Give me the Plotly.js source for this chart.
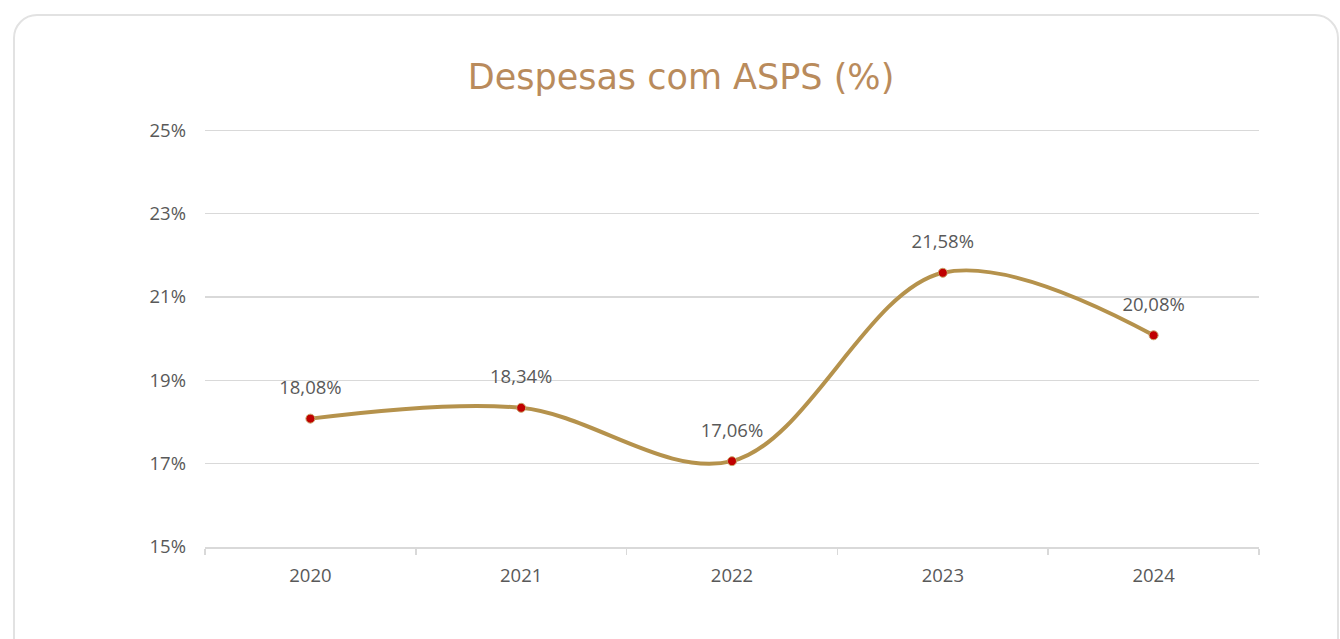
<!DOCTYPE html>
<html>
<head>
<meta charset="utf-8">
<script src="https://cdn.plot.ly/plotly-3.0.1.min.js"></script>
<style>
  html, body { margin: 0; padding: 0; background: #ffffff; width: 1340px; height: 639px; overflow: hidden; }
  #card { position: absolute; left: 13px; top: 14px; width: 1326px; height: 700px; border: 2px solid #e2e2e2; border-radius: 24px; box-sizing: border-box; }
  #chart { position: absolute; left: 0; top: 0; width: 1340px; height: 639px; }
</style>
</head>
<body>
<div id="card"></div>
<div id="chart"></div>
<script>
const years = ["2020", "2021", "2022", "2023", "2024"];
const values = [18.08, 18.34, 17.06, 21.58, 20.08];
const yTicks = [15, 17, 19, 21, 23, 25];
const chartTitle = "Despesas com ASPS (%)";

const fmt = v => v.toFixed(2).replace('.', ',') + '%';

const lineTrace = {
  type: 'scatter',
  mode: 'lines+markers',
  x: years,
  y: values,
  line: { color: '#b5924c', width: 4, shape: 'spline', smoothing: 1 },
  marker: { color: '#c00000', size: 9, line: { color: '#c9a46a', width: 1 } },
  hoverinfo: 'skip'
};

const labelTrace = {
  type: 'scatter',
  mode: 'markers+text',
  x: years,
  y: values,
  text: values.map(fmt),
  textposition: 'top center',
  textfont: { family: 'Open Sans, sans-serif', size: 18.5, color: '#595959' },
  marker: { color: 'rgba(0,0,0,0)', size: 30, line: { width: 0 } },
  cliponaxis: false,
  hoverinfo: 'skip'
};

const layout = {
  width: 1340, height: 639,
  paper_bgcolor: 'rgba(0,0,0,0)', plot_bgcolor: 'rgba(0,0,0,0)',
  margin: { l: 205, r: 81, t: 129, b: 92 },
  showlegend: false,
  title: {
    text: chartTitle, x: 681 / 1340, xanchor: 'center', xref: 'container',
    y: 1 - 77 / 639, yanchor: 'middle', yref: 'container',
    font: { family: 'DejaVu Sans, sans-serif', size: 35, color: '#b98b5c' }
  },
  xaxis: {
    type: 'category', range: [-0.5, 4.5], fixedrange: true,
    showgrid: false, showline: true, linecolor: '#d9d9d9', linewidth: 1.5,
    ticks: 'outside', tickson: 'boundaries', ticklen: 6, tickcolor: '#d9d9d9', tickwidth: 1.5,
    ticklabelstandoff: 11,
    tickfont: { family: 'Open Sans, sans-serif', size: 18.5, color: '#595959' },
    zeroline: false
  },
  yaxis: {
    range: [15, 25.03], tickvals: yTicks, ticktext: yTicks.map(t => t + '%'),
    showgrid: true, gridcolor: '#d9d9d9', gridwidth: 1.5,
    showline: false, zeroline: false, ticks: '',
    ticklabelstandoff: 18,
    tickfont: { family: 'Open Sans, sans-serif', size: 18.5, color: '#595959' },
    fixedrange: true
  }
};

Plotly.newPlot('chart', [lineTrace, labelTrace], layout, { displayModeBar: false, staticPlot: true });
</script>
</body>
</html>
